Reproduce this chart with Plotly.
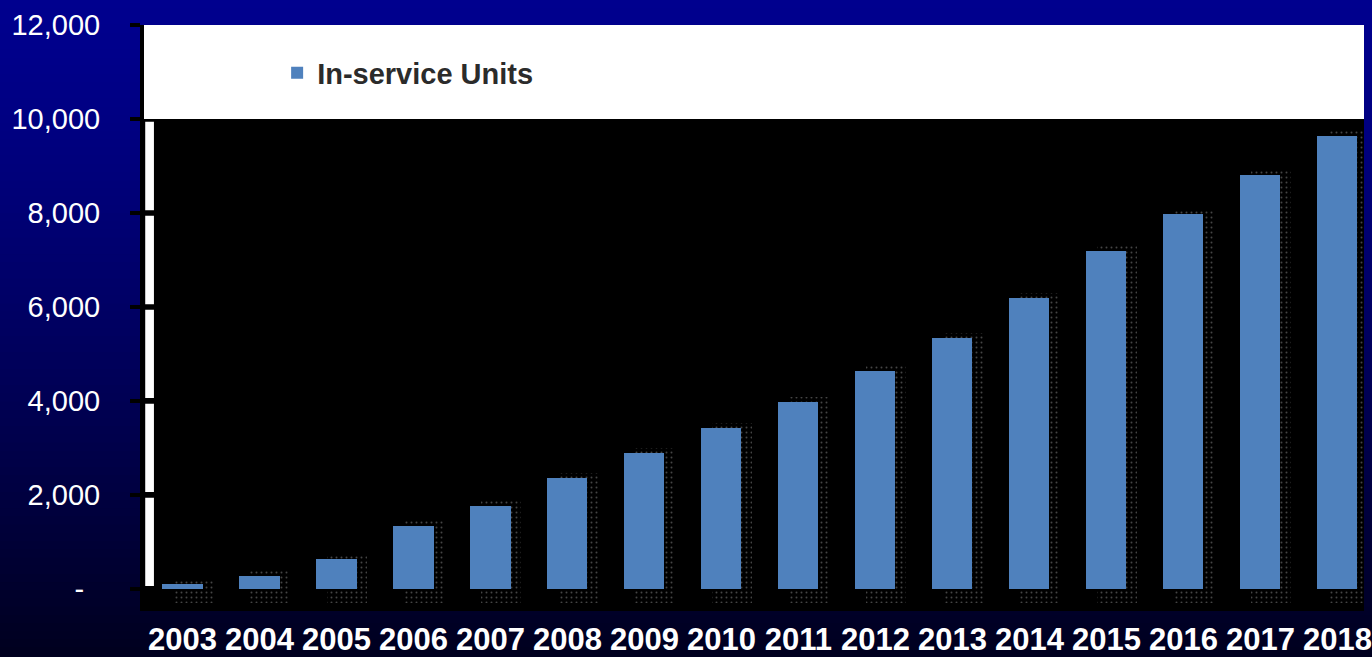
import plotly.graph_objects as go

years = ["2003", "2004", "2005", "2006", "2007", "2008", "2009", "2010",
         "2011", "2012", "2013", "2014", "2015", "2016", "2017", "2018"]
units = [100, 280, 640, 1340, 1770, 2360, 2890, 3430,
         3980, 4640, 5340, 6190, 7190, 7980, 8810, 9640]
series_name = "In-service Units"
tick_vals = [0, 2000, 4000, 6000, 8000, 10000, 12000]
tick_text = ["-\u00a0\u00a0", "2,000", "4,000", "6,000", "8,000", "10,000", "12,000"]

W, H = 1372, 657
ML, MR, MT, MB = 144, 0, 25, 45
PW, PH = W - ML - MR, H - MT - MB
YMIN, YMAX = -470, 12000

BAR_BLUE = "#4F81BD"
FONT = "Liberation Sans, Arial, sans-serif"

fig = go.Figure()

# dotted shadow behind bars
fig.add_trace(go.Bar(
    x=years, y=[v + 400 for v in units], base=-300,
    width=0.52, offset=-0.12,
    marker=dict(color="black", line=dict(width=0),
                pattern=dict(shape=".", fgcolor="#8a8a8a", bgcolor="black",
                             size=5, solidity=0.12)),
    showlegend=False, hoverinfo="skip",
))
fig.add_trace(go.Bar(
    x=years, y=units, name=series_name,
    width=0.52, offset=-0.26,
    marker=dict(color=BAR_BLUE, line=dict(width=0)),
))

shapes = []
# gradient page background
n = 80
for i in range(n):
    t0 = i / n
    t1 = (i + 1) / n
    tm = (t0 + t1) / 2
    b = int(round(142 - 112 * tm ** 1.3))
    y_top_px = t0 * H
    y_bot_px = t1 * H + 1
    shapes.append(dict(
        type="rect", xref="paper", yref="paper", layer="below",
        x0=-ML / PW - 0.01, x1=1.01,
        y0=(H - MB - y_bot_px) / PH, y1=(H - MB - y_top_px) / PH,
        fillcolor=f"rgb(0,0,{b})", line=dict(width=0),
    ))
# black plot area below 10,000 and white band above
shapes.append(dict(type="rect", xref="paper", yref="y", layer="below",
                   x0=0, x1=1, y0=YMIN, y1=10000,
                   fillcolor="black", line=dict(width=0)))
shapes.append(dict(type="rect", xref="paper", yref="y", layer="below",
                   x0=0, x1=1, y0=10000, y1=YMAX,
                   fillcolor="white", line=dict(width=0)))
# white stripe along the value axis, broken at ticks
stripe_w = 10 / PW
for a, b2 in zip(tick_vals[:-2], tick_vals[1:-1]):
    shapes.append(dict(type="rect", xref="paper", yref="y", layer="below",
                       x0=0.001, x1=stripe_w, y0=a + 60, y1=b2 - 60,
                       fillcolor="white", line=dict(width=0)))

fig.update_layout(
    width=W, height=H,
    margin=dict(l=ML, r=MR, t=MT, b=MB),
    paper_bgcolor="#000040",
    plot_bgcolor="rgba(0,0,0,0)",
    barmode="overlay",
    bargap=0,
    shapes=shapes,
    showlegend=True,
    legend=dict(x=(278 - ML) / PW, y=(H - MB - 73) / PH,
                xanchor="left", yanchor="middle",
                bgcolor="rgba(0,0,0,0)",
                font=dict(family=FONT, size=29, color="#2b2b2b", weight="bold")),
    xaxis=dict(
        type="category", range=[-0.5, -0.5 + PW / 77.5],
        showgrid=False, zeroline=False, showline=False, ticks="",
        tickfont=dict(family=FONT, size=31, color="white", weight="bold"),
        ticklabelstandoff=7,
    ),
    yaxis=dict(
        range=[YMIN, YMAX], tickvals=tick_vals, ticktext=tick_text,
        showgrid=False, zeroline=False,
        showline=True, linecolor="black", linewidth=4,
        ticks="outside", ticklen=10, tickwidth=4, tickcolor="black",
        tickfont=dict(family=FONT, size=29, color="white"),
        ticklabelstandoff=24,
    ),
)

fig.write_html("out.html")
